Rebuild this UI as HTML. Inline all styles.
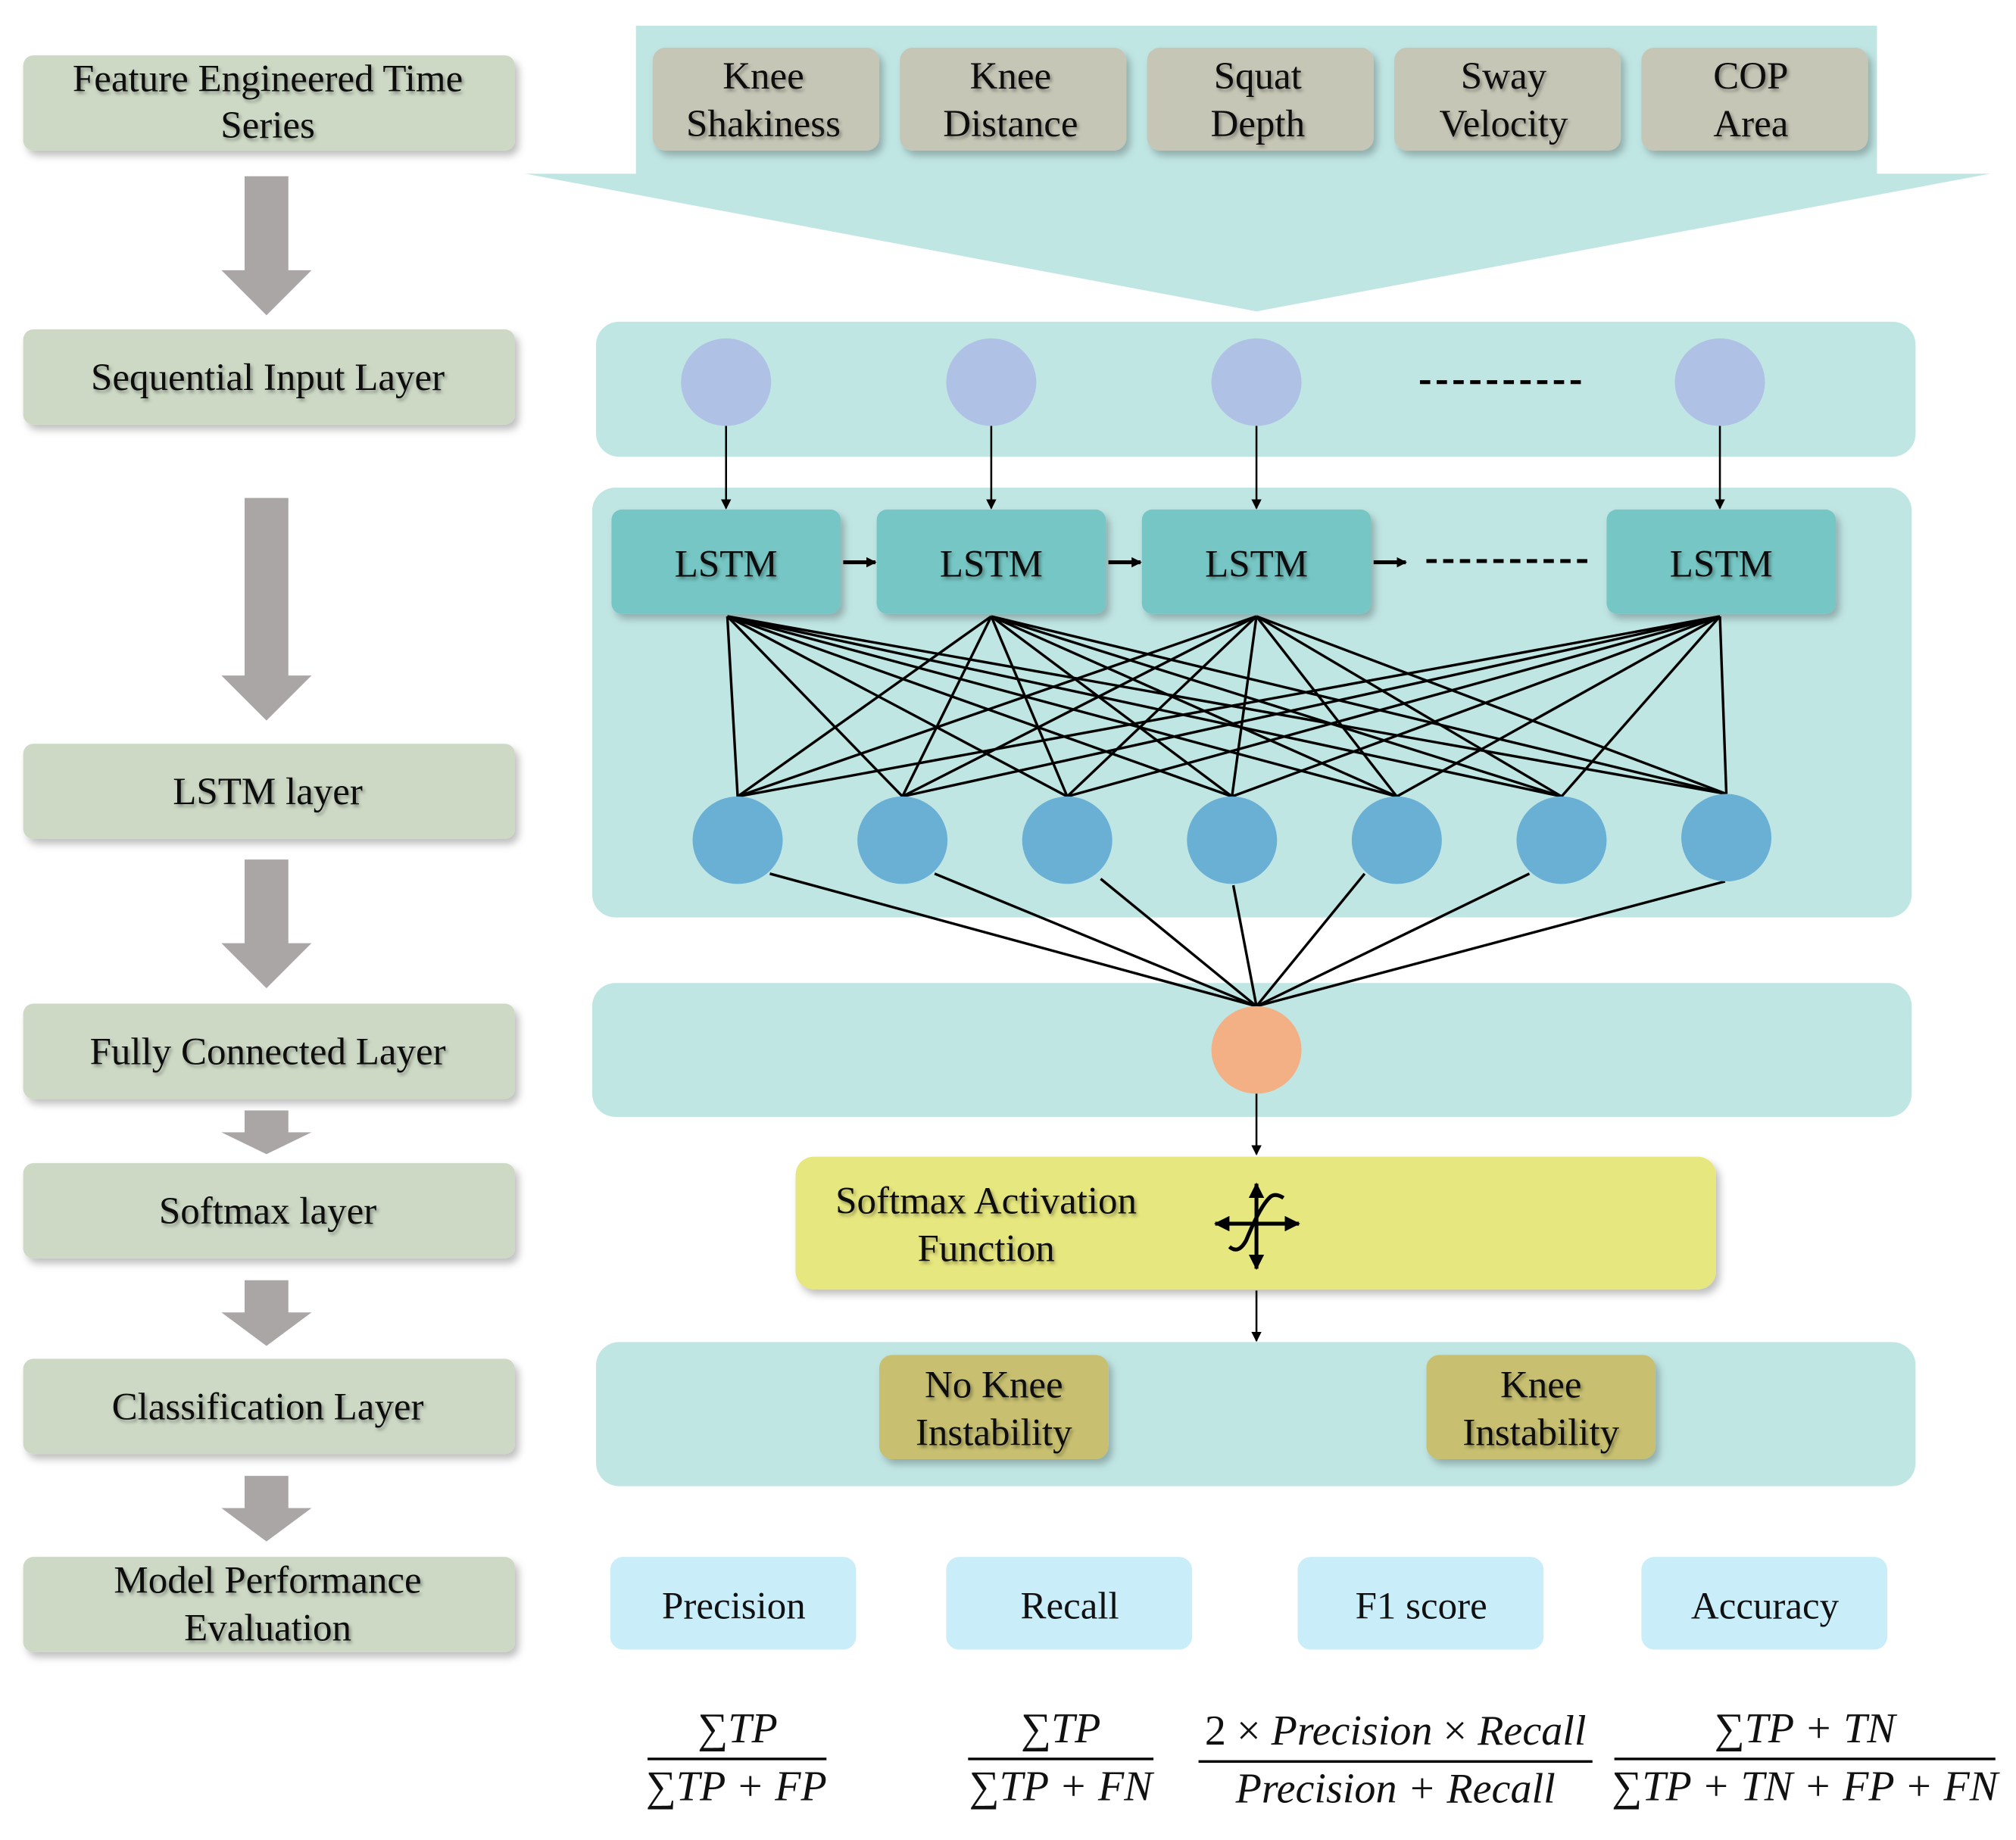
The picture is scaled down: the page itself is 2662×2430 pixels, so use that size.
<!DOCTYPE html>
<html><head><meta charset="utf-8"><style>html,body{margin:0;padding:0;background:#fff}svg{display:block}</style></head>
<body>
<svg xmlns="http://www.w3.org/2000/svg" width="2662" height="2430" viewBox="0 0 1566 1430" preserveAspectRatio="none" font-family="Liberation Serif, serif">
<defs>
<filter id="sh" x="-10%" y="-20%" width="130%" height="150%"><feDropShadow dx="3" dy="4" stdDeviation="3" flood-color="#000" flood-opacity="0.25"/></filter>
<filter id="ts"><feDropShadow dx="1.5" dy="2" stdDeviation="1.2" flood-color="#000" flood-opacity="0.35"/></filter>
<marker id="ar" markerWidth="8" markerHeight="8" refX="7" refY="4" orient="auto" markerUnits="userSpaceOnUse"><path d="M0,0 L8,4 L0,8 z" fill="#000"/></marker>
<marker id="ar2" markerWidth="12" markerHeight="12" refX="11" refY="6" orient="auto" markerUnits="userSpaceOnUse"><path d="M0,0 L12,6 L0,12 z" fill="#000"/></marker>
</defs>
<g fill="#cdd9c5" filter="url(#sh)">
<rect x="18" y="43" width="382" height="74" rx="8"/>
<rect x="18" y="256" width="382" height="74" rx="8"/>
<rect x="18" y="578" width="382" height="74" rx="8"/>
<rect x="18" y="780" width="382" height="74" rx="8"/>
<rect x="18" y="904" width="382" height="74" rx="8"/>
<rect x="18" y="1056" width="382" height="74" rx="8"/>
<rect x="18" y="1210" width="382" height="74" rx="8"/>
</g>
<g font-size="30" text-anchor="middle" fill="#111" filter="url(#ts)">
<text x="208" y="71">Feature Engineered Time</text><text x="208" y="107">Series</text>
<text x="208" y="303">Sequential Input Layer</text>
<text x="208" y="625">LSTM layer</text>
<text x="208" y="827">Fully Connected Layer</text>
<text x="208" y="951">Softmax layer</text>
<text x="208" y="1103">Classification Layer</text>
<text x="208" y="1238">Model Performance</text><text x="208" y="1275">Evaluation</text>
</g>
<g fill="#aaa6a6">
<path d="M190,137 H224 V210 H242 L207,245 L172,210 H190 Z"/>
<path d="M190,387 H224 V525 H242 L207,560 L172,525 H190 Z"/>
<path d="M190,668 H224 V733 H242 L207,768 L172,733 H190 Z"/>
<path d="M190,863 H224 V880 H242 L207,897 L172,880 H190 Z"/>
<path d="M190,995 H224 V1020 H242 L207,1046 L172,1020 H190 Z"/>
<path d="M190,1147 H224 V1172 H242 L207,1198 L172,1172 H190 Z"/>
</g>
<path d="M494,20 H1458 V135 H1546 L976,242 L408,135 H494 Z" fill="#c0e6e4"/>
<g fill="#c6c6b6" filter="url(#sh)">
<rect x="507" y="37" width="176" height="80" rx="10"/>
<rect x="699" y="37" width="176" height="80" rx="10"/>
<rect x="891" y="37" width="176" height="80" rx="10"/>
<rect x="1083" y="37" width="176" height="80" rx="10"/>
<rect x="1275" y="37" width="176" height="80" rx="10"/>
</g>
<g font-size="30" text-anchor="middle" fill="#111" filter="url(#ts)">
<text x="593" y="69">Knee</text><text x="593" y="106">Shakiness</text>
<text x="785" y="69">Knee</text><text x="785" y="106">Distance</text>
<text x="977" y="69">Squat</text><text x="977" y="106">Depth</text>
<text x="1168" y="69">Sway</text><text x="1168" y="106">Velocity</text>
<text x="1360" y="69">COP</text><text x="1360" y="106">Area</text>
</g>
<rect x="463" y="250" width="1025" height="105" rx="18" fill="#c0e6e4"/>
<rect x="460" y="379" width="1025" height="334" rx="18" fill="#c0e6e4"/>
<rect x="460" y="764" width="1025" height="104" rx="18" fill="#c0e6e4"/>
<rect x="463" y="1043" width="1025" height="112" rx="18" fill="#c0e6e4"/>
<g fill="#afc2e6">
<ellipse cx="564" cy="297" rx="35" ry="34"/><ellipse cx="770" cy="297" rx="35" ry="34"/><ellipse cx="976" cy="297" rx="35" ry="34"/><ellipse cx="1336" cy="297" rx="35" ry="34"/>
</g>
<line x1="1103" y1="297" x2="1230" y2="297" stroke="#000" stroke-width="3" stroke-dasharray="8,5"/>
<g stroke="#000" stroke-width="1.5" marker-end="url(#ar)">
<line x1="564" y1="331" x2="564" y2="395"/><line x1="770" y1="331" x2="770" y2="395"/><line x1="976" y1="331" x2="976" y2="395"/><line x1="1336" y1="331" x2="1336" y2="395"/>
</g>
<g fill="#75c6c4" filter="url(#sh)">
<rect x="475" y="396" width="178" height="81" rx="8"/><rect x="681" y="396" width="178" height="81" rx="8"/><rect x="887" y="396" width="178" height="81" rx="8"/><rect x="1248" y="396" width="178" height="81" rx="8"/>
</g>
<g font-size="30" text-anchor="middle" fill="#111" filter="url(#ts)">
<text x="564" y="448">LSTM</text><text x="770" y="448">LSTM</text><text x="976" y="448">LSTM</text><text x="1337" y="448">LSTM</text>
</g>
<g stroke="#000" stroke-width="3" marker-end="url(#ar)">
<line x1="655" y1="437" x2="680" y2="437"/><line x1="861" y1="437" x2="886" y2="437"/><line x1="1067" y1="437" x2="1092" y2="437"/>
</g>
<line x1="1108" y1="436" x2="1235" y2="436" stroke="#000" stroke-width="3" stroke-dasharray="8,5"/>
<g stroke="#000" stroke-width="2">
<path d="M565,479 L573,619 M565,479 L701,619 M565,479 L829,619 M565,479 L957,619 M565,479 L1085,619 M565,479 L1213,619 M565,479 L1341,617"/>
<path d="M770,479 L573,619 M770,479 L701,619 M770,479 L829,619 M770,479 L957,619 M770,479 L1085,619 M770,479 L1213,619 M770,479 L1341,617"/>
<path d="M976,479 L573,619 M976,479 L701,619 M976,479 L829,619 M976,479 L957,619 M976,479 L1085,619 M976,479 L1213,619 M976,479 L1341,617"/>
<path d="M1336,479 L573,619 M1336,479 L701,619 M1336,479 L829,619 M1336,479 L957,619 M1336,479 L1085,619 M1336,479 L1213,619 M1336,479 L1341,617"/>
<path d="M598,679 L976,782 M726,679 L976,782 M855,683 L976,782 M958,688 L976,782 M1060,679 L976,782 M1188,679 L976,782 M1340,685 L976,782"/>
</g>
<g fill="#6aafd4">
<ellipse cx="573" cy="653" rx="35" ry="34"/><ellipse cx="701" cy="653" rx="35" ry="34"/><ellipse cx="829" cy="653" rx="35" ry="34"/><ellipse cx="957" cy="653" rx="35" ry="34"/><ellipse cx="1085" cy="653" rx="35" ry="34"/><ellipse cx="1213" cy="653" rx="35" ry="34"/><ellipse cx="1341" cy="651" rx="35" ry="34"/>
</g>
<ellipse cx="976" cy="816" rx="35" ry="34" fill="#f2b084"/>
<g stroke="#000" stroke-width="1.5" marker-end="url(#ar)">
<line x1="976" y1="850" x2="976" y2="897"/><line x1="976" y1="1003" x2="976" y2="1042"/>
</g>
<rect x="618" y="899" width="715" height="103" rx="14" fill="#e7e77f" filter="url(#sh)"/>
<g font-size="30" text-anchor="middle" fill="#111" filter="url(#ts)">
<text x="766" y="943">Softmax Activation</text><text x="766" y="980">Function</text>
</g>
<g stroke="#000" stroke-width="3" fill="none">
<line x1="976" y1="930" x2="976" y2="920" marker-end="url(#ar2)"/>
<line x1="976" y1="930" x2="976" y2="986" marker-end="url(#ar2)"/>
<line x1="976" y1="951" x2="944" y2="951" marker-end="url(#ar2)"/>
<line x1="976" y1="951" x2="1009" y2="951" marker-end="url(#ar2)"/>
<path d="M955,969 Q962,975 968,964 Q979,937 987,930 Q991,927 997,931"/>
</g>
<g fill="#c8c070" filter="url(#sh)">
<rect x="683" y="1053" width="178" height="81" rx="10"/><rect x="1108" y="1053" width="178" height="81" rx="10"/>
</g>
<g font-size="30" text-anchor="middle" fill="#111" filter="url(#ts)">
<text x="772" y="1086">No Knee</text><text x="772" y="1123">Instability</text>
<text x="1197" y="1086">Knee</text><text x="1197" y="1123">Instability</text>
</g>
<g fill="#c9edf9">
<rect x="474" y="1210" width="191" height="72" rx="10"/><rect x="735" y="1210" width="191" height="72" rx="10"/><rect x="1008" y="1210" width="191" height="72" rx="10"/><rect x="1275" y="1210" width="191" height="72" rx="10"/>
</g>
<g font-size="30" text-anchor="middle" fill="#111">
<text x="570" y="1258">Precision</text><text x="831" y="1258">Recall</text><text x="1104" y="1258">F1 score</text><text x="1371" y="1258">Accuracy</text>
</g>
<g stroke="#000" stroke-width="2">
<line x1="503" y1="1367" x2="642" y2="1367"/><line x1="752" y1="1367" x2="896" y2="1367"/><line x1="931" y1="1369" x2="1237" y2="1369"/><line x1="1254" y1="1367" x2="1550" y2="1367"/>
</g>
<g font-size="33" text-anchor="middle" fill="#111" font-style="italic">
<text x="573" y="1354">∑TP</text><text x="572" y="1399">∑TP + FP</text>
<text x="824" y="1354">∑TP</text><text x="824" y="1399">∑TP + FN</text>
<text x="1084" y="1356"><tspan font-style="normal">2 ×</tspan> Precision <tspan font-style="normal">×</tspan> Recall</text><text x="1084" y="1401">Precision + Recall</text>
<text x="1402" y="1354">∑TP + TN</text><text x="1402" y="1399">∑TP + TN + FP + FN</text>
</g>
</svg>
</body></html>
